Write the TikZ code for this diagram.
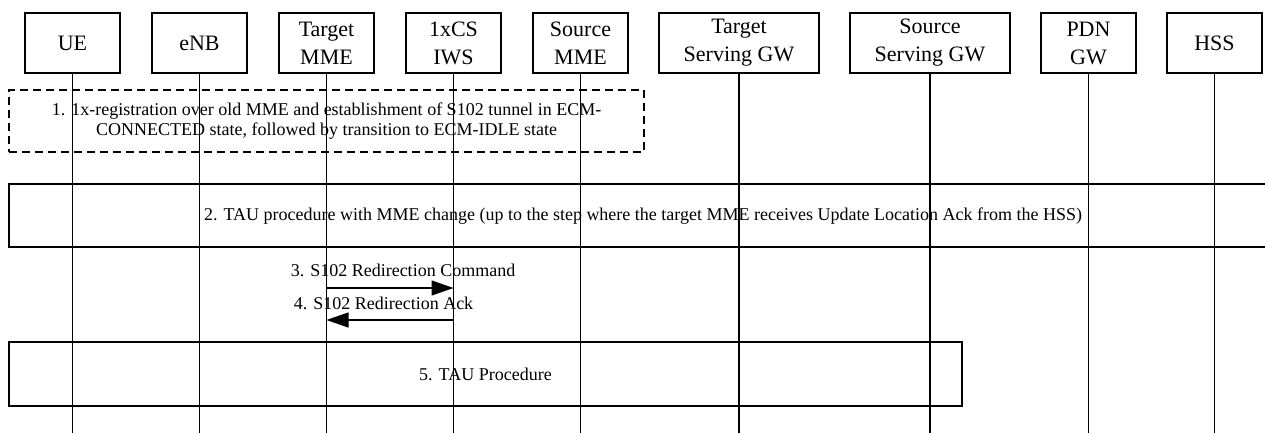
\documentclass[tikz,border=0pt]{standalone}
\usepackage{fontspec}
\setmainfont{Liberation Serif}
\usepackage{tikz}
\usetikzlibrary{positioning, arrows.meta}

\begin{document}
\begin{tikzpicture}[x=1pt, y=-1pt]
		\tikzset{
			node distance=32pt and 32pt,
			entity/.style={rectangle, draw, black, line width=1.3pt, align=center, outer sep=0pt,
			font=\fontsize{22}{28}\selectfont, minimum width=95pt, minimum height=60pt, inner sep=2pt},
			procbox/.style={rectangle, draw, black, line width=1.3pt, align=center, outer sep=0pt,
			font=\fontsize{18}{20}\selectfont, inner sep=0pt},
			msgtext/.style={font=\fontsize{18}{20}\selectfont, inner sep=1pt},
			lifeline/.style={black, line width=1.2pt},
			msg/.style={black, line width=1.3pt, -{Triangle[length=22pt, width=15pt]}}
		}
		\fill[white] (0,0) rectangle (1265,433);
		\useasboundingbox (0,0) rectangle (1265,433);
		\coordinate (bottom) at (0,433);

		\node[entity, anchor=north west](ue) at (25,13){UE};
		\node[entity, right=of ue](enb){eNB};
		\node[entity, right=of enb](tmme){Target\\MME};
		\node[entity, right=of tmme](iws){1xCS\\IWS};
		\node[entity, right=of iws](smme){Source\\MME};
		\node[entity, right=31pt of smme, minimum width=160pt](tsgw){Target\\Serving GW};
		\node[entity, right=31pt of tsgw, minimum width=160pt](ssgw){Source\\Serving GW};
		\node[entity, right=31pt of ssgw](pgw){PDN\\GW};
		\node[entity, right=31pt of pgw](hss){HSS};

		\node[procbox, dashed, dash pattern=on 8pt off 5pt, minimum width=635pt, minimum height=62pt,
			anchor=north west](reg) at (9,90){1. 1x-registration over old MME and establishment of S102 tunnel in ECM-\\CONNECTED state, followed by transition to ECM-IDLE state};
		\node[procbox, minimum width=1262pt, minimum height=63pt, anchor=north west](tauchg) at (9,184){};
		\node[msgtext](tauchglabel) at (643,216){2. TAU procedure with MME change (up to the step where the target MME receives Update Location Ack from the HSS)};
		\node[procbox, minimum width=953pt, minimum height=64pt, anchor=north west](tauproc) at (9,342){5. TAU Procedure};

		\foreach \n in {ue,enb,tmme,iws,smme,tsgw,ssgw,pgw,hss}
			\draw[lifeline](\n.south) -- (\n.south |- bottom);

		\draw[msg](tmme |- 0,288) -- (iws |- 0,288);
		\node[msgtext](redircmd) at (403,270){3. S102 Redirection Command};
		\draw[msg](iws |- 0,320) -- (tmme |- 0,320);
		\node[msgtext](redirack) at (383.5,303){4. S102 Redirection Ack};
	\end{tikzpicture}
\end{document}
